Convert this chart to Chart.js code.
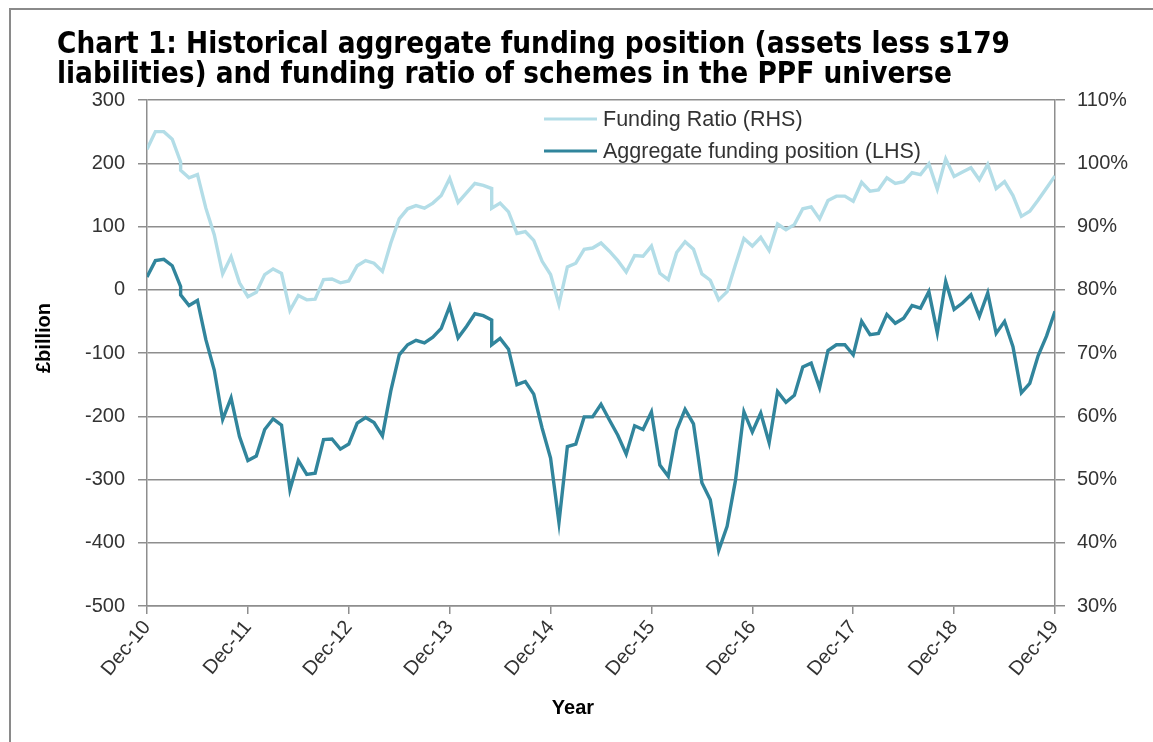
<!DOCTYPE html>
<html><head><meta charset="utf-8">
<script src="https://cdn.jsdelivr.net/npm/chart.js@4"></script>
<style>html,body{margin:0;padding:0;background:#fff}</style>
</head><body>
<canvas id="c" width="1153" height="742"></canvas>
<script>
// Monthly observations (two values in Apr-11 and May-14 where the universe basis changed)
const periods = [
 '2010-12','2011-01','2011-02','2011-03','2011-04','2011-04','2011-05','2011-06','2011-07','2011-08','2011-09','2011-10','2011-11','2011-12',
 '2012-01','2012-02','2012-03','2012-04','2012-05','2012-06','2012-07','2012-08','2012-09','2012-10','2012-11','2012-12',
 '2013-01','2013-02','2013-03','2013-04','2013-05','2013-06','2013-07','2013-08','2013-09','2013-10','2013-11','2013-12',
 '2014-01','2014-02','2014-03','2014-04','2014-05','2014-05','2014-06','2014-07','2014-08','2014-09','2014-10','2014-11','2014-12',
 '2015-01','2015-02','2015-03','2015-04','2015-05','2015-06','2015-07','2015-08','2015-09','2015-10','2015-11','2015-12',
 '2016-01','2016-02','2016-03','2016-04','2016-05','2016-06','2016-07','2016-08','2016-09','2016-10','2016-11','2016-12',
 '2017-01','2017-02','2017-03','2017-04','2017-05','2017-06','2017-07','2017-08','2017-09','2017-10','2017-11','2017-12',
 '2018-01','2018-02','2018-03','2018-04','2018-05','2018-06','2018-07','2018-08','2018-09','2018-10','2018-11','2018-12',
 '2019-01','2019-02','2019-03','2019-04','2019-05','2019-06','2019-07','2019-08','2019-09','2019-10','2019-11','2019-12'
];
// Aggregate funding position, £billion (LHS)
const fundingPosition = [
 20,46,48,38,5,-8,-25,-17,-79,-127,-205,-171,-232,-270,
 -263,-221,-204,-214,-316,-270,-292,-290,-237,-236,-252,-244,
 -211,-202,-210,-231,-160,-103,-87,-80,-84,-75,-61,-26,
 -76,-58,-38,-41,-48,-87,-77,-94,-150,-145,-165,-219,-266,
 -368,-248,-244,-201,-201,-181,-206,-230,-260,-215,-221,-193,
 -277,-295,-222,-189,-212,-305,-332,-412,-374,-301,-193,-225,
 -195,-242,-161,-178,-167,-122,-116,-155,-96,-87,-87,-103,
 -50,-71,-69,-39,-53,-45,-25,-29,-3,-68,13,-31,
 -21,-8,-42,-5,-69,-50,-90,-163,-148,-104,-73,-34
];
// Funding ratio, % (RHS)
const fundingRatio = [
 102.2,105.0,105.0,103.8,100.2,98.9,97.7,98.2,92.9,88.7,82.5,85.2,81.1,78.9,
 79.6,82.4,83.3,82.6,76.7,79.1,78.4,78.5,81.6,81.7,81.1,81.4,
 83.8,84.6,84.2,82.9,87.4,91.2,92.8,93.3,92.9,93.7,94.9,97.6,
 93.8,95.3,96.8,96.5,96.0,92.9,93.7,92.3,88.9,89.2,87.8,84.5,82.4,
 77.7,83.6,84.2,86.4,86.6,87.4,86.1,84.6,82.8,85.4,85.3,86.9,
 82.6,81.6,85.9,87.6,86.4,82.5,81.5,78.4,79.7,84.0,88.1,86.9,
 88.3,86.2,90.4,89.5,90.3,92.8,93.1,91.2,94.1,94.8,94.8,94.0,
 97.0,95.6,95.8,97.7,96.8,97.1,98.5,98.2,99.9,95.9,100.7,97.9,
 98.6,99.3,97.4,99.8,96.0,97.1,94.9,91.6,92.4,94.2,96.1,98.0
];
const xTickLabels = ['Dec-10','Dec-11','Dec-12','Dec-13','Dec-14','Dec-15','Dec-16','Dec-17','Dec-18','Dec-19'];
const seriesLabels = ['Funding Ratio (RHS)','Aggregate funding position (LHS)'];
const titleLines = ['Chart 1: Historical aggregate funding position (assets less s179','liabilities) and funding ratio of schemes in the PPF universe'];
const yLeftTitle = '£billion';
const xTitle = 'Year';

const monthIndex = p => { const [y,m] = p.split('-').map(Number); return (y-2010)*12 + (m-12); };
const toPoints = vals => vals.map((v,i) => ({x: monthIndex(periods[i]), y: v}));

const LIGHT = '#b3dde7', DARK = '#31859c', GRID = '#8e8e8e', TXT = '#333333';
const FONT = "'Liberation Sans', Arial, sans-serif";

const decor = {
  id: 'decor',
  beforeDraw(chart) {
    const ctx = chart.ctx;
    ctx.save();
    ctx.strokeStyle = '#8a8a8a'; ctx.lineWidth = 2;
    ctx.beginPath(); ctx.moveTo(10, 742); ctx.lineTo(10, 9); ctx.lineTo(1153, 9); ctx.stroke();
    ctx.restore();
  },
  afterDraw(chart) {
    const ctx = chart.ctx;
    ctx.save();
    // title
    ctx.fillStyle = '#000';
    ctx.font = "bold 30px 'DejaVu Sans', Verdana, sans-serif";
    ctx.textBaseline = 'alphabetic'; ctx.textAlign = 'left';
    const w1 = ctx.measureText(titleLines[0]).width;
    const sx = 953 / w1;
    ctx.save(); ctx.translate(57, 0); ctx.scale(sx, 1);
    ctx.fillText(titleLines[0], 0, 53);
    ctx.fillText(titleLines[1], 0, 83);
    ctx.restore();
    // legend
    const items = [[LIGHT, seriesLabels[0], 119], [DARK, seriesLabels[1], 151]];
    ctx.font = '21.5px ' + FONT; ctx.textBaseline = 'middle';
    items.forEach(([c, t, y]) => {
      ctx.strokeStyle = c; ctx.lineWidth = 3.2;
      ctx.beginPath(); ctx.moveTo(544, y); ctx.lineTo(597, y); ctx.stroke();
      ctx.fillStyle = TXT; ctx.fillText(t, 603, y + 1);
    });
    // axis titles
    ctx.fillStyle = '#000';
    ctx.font = 'bold 20px ' + FONT; ctx.textAlign = 'center';
    ctx.fillText(xTitle, 573, 708);
    ctx.save(); ctx.translate(44, 338); ctx.rotate(-Math.PI/2);
    ctx.fillText(yLeftTitle, 0, 0); ctx.restore();
    ctx.restore();
  }
};

new Chart(document.getElementById('c'), {
  type: 'line',
  data: {
    datasets: [
      { label: seriesLabels[0], data: toPoints(fundingRatio), yAxisID: 'yR', borderColor: LIGHT, borderWidth: 3.4, pointRadius: 0, tension: 0, fill: false },
      { label: seriesLabels[1], data: toPoints(fundingPosition), yAxisID: 'yL', borderColor: DARK, borderWidth: 3.4, pointRadius: 0, tension: 0, fill: false }
    ]
  },
  options: {
    responsive: false, animation: false, devicePixelRatio: 1,
    layout: { padding: { top: 100, left: 0, right: 0, bottom: 0 } },
    plugins: { legend: { display: false }, title: { display: false }, tooltip: { enabled: false } },
    scales: {
      x: {
        type: 'linear', min: 0, max: 108,
        afterFit: s => { s.height = 136; },
        afterBuildTicks: s => { s.ticks = xTickLabels.map((_, i) => ({ value: i * 12 })); },
        ticks: { callback: v => xTickLabels[Math.round(v / 12)], minRotation: 50, maxRotation: 50, autoSkip: false, color: TXT, font: { family: FONT, size: 20 }, padding: 2 },
        grid: { drawOnChartArea: false, drawTicks: true, tickLength: 8, color: GRID, lineWidth: 1.5 },
        border: { display: true, color: GRID, width: 1.5 }
      },
      yL: {
        position: 'left', min: -500, max: 300,
        afterFit: s => { s.width = 147; },
        ticks: { stepSize: 100, color: TXT, font: { family: FONT, size: 20 }, padding: 13 },
        grid: { drawOnChartArea: true, drawTicks: true, tickLength: 9, color: GRID, lineWidth: 1.5 },
        border: { display: true, color: GRID, width: 1.5 }
      },
      yR: {
        position: 'right', min: 30, max: 110,
        afterFit: s => { s.width = 98; },
        ticks: { stepSize: 10, callback: v => v + '%', color: TXT, font: { family: FONT, size: 20 }, padding: 12 },
        grid: { drawOnChartArea: false, drawTicks: true, tickLength: 10, color: GRID, lineWidth: 1.5 },
        border: { display: true, color: GRID, width: 1.5 }
      }
    }
  },
  plugins: [decor]
});
</script>
</body></html>
